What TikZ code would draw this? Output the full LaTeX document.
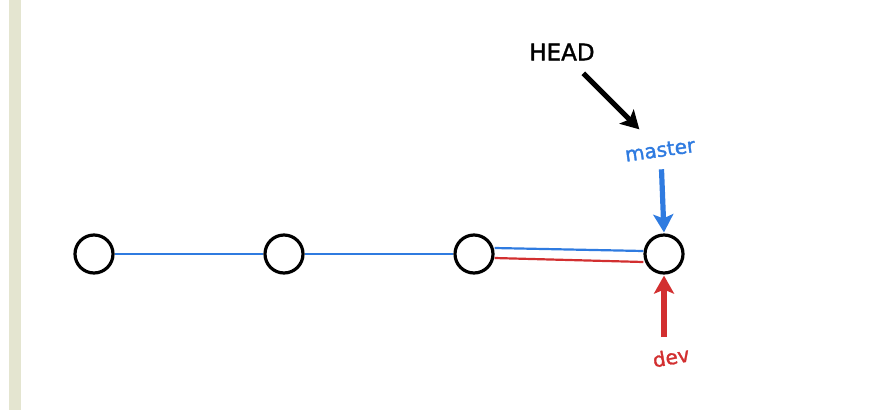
\documentclass[tikz,border=0pt]{standalone}
\usepackage{fontspec}
\setmainfont{DejaVu Sans}
\newfontfamily\handfont[FakeBold=1.5]{DejaVu Sans}
\usetikzlibrary{arrows.meta}
\definecolor{gblue}{HTML}{2F7BE0}
\definecolor{gred}{HTML}{D22F30}
\definecolor{stripe}{HTML}{E4E5D0}
\begin{document}
\begin{tikzpicture}[x=1pt,y=-1pt,
  commit/.style={circle,draw=black,line width=3.2pt,minimum size=38pt,inner sep=0pt,fill=white},
  link/.style={line width=2.2pt},
  ptr/.style={line width=5.2pt,-{Stealth[length=18pt,width=20pt,inset=4pt]}},
  lbl/.style={inner sep=0pt,font=\handfont\fontsize{20}{24}\selectfont}]
\useasboundingbox (0,0) rectangle (874,410);
\fill[stripe] (9,0) rectangle (21,410);
\node[commit] (c1) at (94,254) {};
\node[commit] (c2) at (284,254) {};
\node[commit] (c3) at (474,254) {};
\node[commit] (c4) at (664,254) {};
\draw[link,gblue] (c1.east) -- (c2.west);
\draw[link,gblue] (c2.east) -- (c3.west);
\draw[link,gblue] ([yshift=6pt]c3.east) -- ([yshift=3pt]c4.west);
\draw[link,gred] ([yshift=-4pt]c3.east) -- ([yshift=-8pt]c4.west);
\node[lbl,font=\handfont\fontsize{23}{26}\selectfont] (head) at (562,52) {HEAD};
\node[lbl,text=gblue,rotate=8] (master) at (660,150) {master};
\node[lbl,text=gred,rotate=10] (dev) at (671,357) {dev};
\draw[ptr,black,shorten <=18pt,shorten >=20pt] (head) -- (master);
\draw[ptr,gblue,shorten <=12pt,shorten >=1pt] (master.south) -- (c4.north);
\draw[ptr,gred,shorten <=12pt,shorten >=1pt] (dev.north -| c4) -- (c4.south);
\end{tikzpicture}
\end{document}
